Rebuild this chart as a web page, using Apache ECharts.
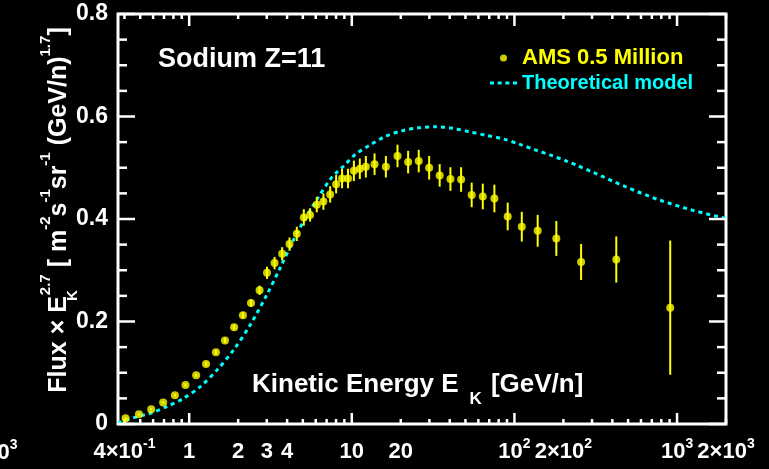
<!DOCTYPE html>
<html><head><meta charset="utf-8">
<script src="https://cdn.jsdelivr.net/npm/echarts@6/dist/echarts.min.js"></script>
<style>html,body{margin:0;padding:0;background:#000}#c{width:769px;height:469px}</style>
</head><body><div id="c"></div>
<script>
// ---- data ----
const energy = [0.406, 0.491, 0.584, 0.692, 0.817, 0.949, 1.104, 1.27, 1.46, 1.66, 1.89, 2.14, 2.40, 2.71, 3.01, 3.35, 3.73, 4.14, 4.59, 5.07, 5.54, 6.09, 6.69, 7.36, 8.01, 8.71, 9.48, 10.3, 11.2, 12.2, 13.8, 16.2, 19.1, 22.2, 25.8, 29.9, 34.7, 40.4, 47.0, 54.6, 63.9, 75.3, 90.9, 111, 139, 181, 257, 423, 908];
const flux = [0.011, 0.019, 0.029, 0.042, 0.056, 0.076, 0.095, 0.117, 0.140, 0.163, 0.189, 0.212, 0.236, 0.261, 0.295, 0.314, 0.332, 0.351, 0.371, 0.403, 0.408, 0.428, 0.434, 0.448, 0.468, 0.479, 0.479, 0.494, 0.498, 0.502, 0.507, 0.502, 0.523, 0.511, 0.513, 0.500, 0.485, 0.478, 0.477, 0.447, 0.444, 0.440, 0.405, 0.385, 0.377, 0.362, 0.316, 0.321, 0.227];
const fluxErr = [0.002, 0.002, 0.002, 0.002, 0.003, 0.003, 0.003, 0.004, 0.004, 0.005, 0.005, 0.006, 0.007, 0.009, 0.012, 0.012, 0.013, 0.013, 0.014, 0.016, 0.013, 0.015, 0.016, 0.016, 0.018, 0.019, 0.019, 0.020, 0.020, 0.021, 0.021, 0.021, 0.022, 0.022, 0.022, 0.023, 0.022, 0.023, 0.024, 0.024, 0.025, 0.027, 0.027, 0.029, 0.031, 0.034, 0.035, 0.045, 0.131];
const modelEnergy = [0.365, 0.453, 0.576, 0.73, 0.923, 1.17, 1.48, 1.87, 2.37, 3.0, 3.62, 4.38, 5.04, 6.1, 7.36, 8.08, 8.88, 10.6, 12.9, 16.0, 20.3, 25.7, 32.6, 41.5, 53.3, 67.5, 85.9, 107, 134, 169, 209, 241, 305, 490, 780, 1250, 2000];
const modelFlux = [0.002, 0.012, 0.021, 0.034, 0.050, 0.073, 0.105, 0.144, 0.193, 0.252, 0.304, 0.359, 0.395, 0.438, 0.477, 0.491, 0.503, 0.527, 0.544, 0.561, 0.572, 0.578, 0.580, 0.577, 0.570, 0.563, 0.556, 0.546, 0.535, 0.524, 0.513, 0.505, 0.491, 0.462, 0.437, 0.417, 0.401];

const xLabelValues = [0.4, 1, 2, 3, 4, 10, 20, 100, 200, 1000, 2000];
const xLabelTexts = ['4×10{sup|-1}', '1', '2', '3', '4', '10', '20', '10{sup|2}', '2×10{sup|2}', '10{sup|3}', '2×10{sup|3}'];
const xMajorTicks = [1, 10, 100, 1000];
const xMinorTicks = [0.4, 0.5, 0.6, 0.7, 0.8, 0.9, 2, 3, 4, 5, 6, 7, 8, 9, 20, 30, 40, 50, 60, 70, 80, 90, 200, 300, 400, 500, 600, 700, 800, 900, 2000];
const yTickValues = [0, 0.2, 0.4, 0.6, 0.8];
const yTickLabels = ['0', '0.2', '0.4', '0.6', '0.8'];
const yMinorTicks = [0.05, 0.1, 0.15, 0.25, 0.3, 0.35, 0.45, 0.5, 0.55, 0.65, 0.7, 0.75];
const X_MIN = 0.365, X_MAX = 2000, Y_MIN = 0, Y_MAX = 0.8, Y_STEP = 0.2;

// ---- styling ----
const FONT = '"Liberation Sans", Arial, Helvetica, sans-serif';
const WHITE = '#ffffff', YELLOW = '#ffff00', CYAN = '#00ffff';
const TICK_W = 2.5;
const X_TICK_LEN = [11, 5, 12, 5];   // bottom major, bottom minor, top major, top minor
const Y_TICK_LEN = [17, 9, 17, 9];   // left major, left minor, right major, right minor
const X_LABEL_GAP = 28;
const DASH_ICON = 'path://M0,0h4v3h-4zM7.6,0h4v3h-4zM15.2,0h4v3h-4zM22.8,0h4v3h-4z';
const supRich = {fontSize: 14, lineHeight: 14, verticalAlign: 'top', fontWeight: 'bold', fontFamily: FONT, fill: WHITE, color: WHITE};
const mainRich = {fontSize: 22, lineHeight: 29, fontWeight: 'bold', fontFamily: FONT, fill: WHITE, color: WHITE};

const xTickData = [].concat(
  xMajorTicks.map(v => [v, Y_MIN, 0]), xMinorTicks.map(v => [v, Y_MIN, 1]),
  xMajorTicks.map(v => [v, Y_MAX, 2]), xMinorTicks.map(v => [v, Y_MAX, 3]));
const yTickData = [].concat(
  yTickValues.map(v => [X_MIN, v, 0]), yMinorTicks.map(v => [X_MIN, v, 1]),
  yTickValues.map(v => [X_MAX, v, 2]), yMinorTicks.map(v => [X_MAX, v, 3]));

const chart = echarts.init(document.getElementById('c'), null, {renderer: 'canvas'});
chart.setOption({
  backgroundColor: '#000000',
  animation: false,
  grid: {left: 118, right: 43, top: 14, bottom: 45, show: true, borderColor: WHITE, borderWidth: 3, backgroundColor: 'transparent'},
  title: {text: 'Sodium Z=11', left: 158, top: 46, padding: 0,
          textStyle: {color: WHITE, fontSize: 27, fontWeight: 'bold', fontFamily: FONT}},
  legend: {
    orient: 'vertical', left: 490, top: 47, padding: 0, itemGap: 4, itemWidth: 27, itemHeight: 7,
    textStyle: {fontSize: 22, fontWeight: 'bold', fontFamily: FONT},
    data: [
      {name: 'AMS 0.5 Million', icon: 'circle', textStyle: {color: YELLOW, fontSize: 22}},
      {name: 'Theoretical model', icon: DASH_ICON, textStyle: {color: CYAN, fontSize: 20}}
    ]
  },
  xAxis: {type: 'log', logBase: 10, min: X_MIN, max: X_MAX,
          axisLine: {show: false, onZero: false}, axisTick: {show: false}, axisLabel: {show: false},
          splitLine: {show: false}, minorTick: {show: false}},
  yAxis: {type: 'value', position: 'left', min: Y_MIN, max: Y_MAX, interval: Y_STEP,
          axisLine: {show: false, onZero: false}, axisTick: {show: false}, splitLine: {show: false},
          axisLabel: {
            show: true, margin: 10, color: WHITE, fontSize: 23, fontWeight: 'bold', fontFamily: FONT,
            formatter: function (v) {
              for (let i = 0; i < yTickValues.length; i++) {
                if (Math.abs(yTickValues[i] - v) < 1e-9) return yTickLabels[i];
              }
              return '';
            }
          }},
  graphic: [
    {type: 'text', x: 59, y: 210, rotation: Math.PI / 2,
     style: {
       text: '{m|Flux × E}{k|K}{sup|2.7}{m| [ m}{sup|-2}{m|s}{sup|-1}{m|sr}{sup|-1}{m| (GeV/n)}{sup|1.7}{m|]}',
       align: 'center', verticalAlign: 'middle', fill: WHITE,
       rich: {
         m: {fontSize: 25, lineHeight: 42, fontWeight: 'bold', fontFamily: FONT, fill: WHITE},
         sup: {fontSize: 15, lineHeight: 14, verticalAlign: 'top', fontWeight: 'bold', fontFamily: FONT, fill: WHITE},
         k: {fontSize: 15, lineHeight: 34, width: 1, verticalAlign: 'bottom', fontWeight: 'bold', fontFamily: FONT, fill: WHITE}
       }
     }},
    {type: 'text', x: 252, y: 385,
     style: {
       text: '{m|Kinetic Energy E}{sub|K}{m|[GeV/n]}',
       align: 'left', verticalAlign: 'middle', fill: WHITE,
       rich: {
         m: {fontSize: 26, lineHeight: 46, fontWeight: 'bold', fontFamily: FONT, fill: WHITE},
         sub: {fontSize: 17, lineHeight: 17, verticalAlign: 'bottom', padding: [0, 9, 0, 11], fontWeight: 'bold', fontFamily: FONT, fill: WHITE}
       }
     }},
    {type: 'text', x: 17.5, y: 452.5,
     style: {
       text: '{m|10}{sup|3}', align: 'right', verticalAlign: 'middle', fill: WHITE,
       rich: {m: mainRich, sup: supRich}
     }}
  ],
  series: [
    {
      name: 'x ticks', type: 'custom', z: 3,
      data: xTickData,
      encode: {x: 0, y: 1},
      renderItem: function (params, api) {
        const code = api.value(2);
        const p = api.coord([api.value(0), api.value(1)]);
        const len = X_TICK_LEN[code];
        const top = code >= 2;
        return {type: 'rect',
                shape: {x: p[0] - TICK_W / 2, y: top ? p[1] : p[1] - len, width: TICK_W, height: len},
                style: {fill: WHITE}};
      }
    },
    {
      name: 'y ticks', type: 'custom', z: 3,
      data: yTickData,
      encode: {x: 0, y: 1},
      renderItem: function (params, api) {
        const code = api.value(2);
        const p = api.coord([api.value(0), api.value(1)]);
        const len = Y_TICK_LEN[code];
        const right = code >= 2;
        return {type: 'rect',
                shape: {x: right ? p[0] - len : p[0], y: p[1] - TICK_W / 2, width: len, height: TICK_W},
                style: {fill: WHITE}};
      }
    },
    {
      name: 'x labels', type: 'custom', z: 5,
      data: xLabelValues.map((v, i) => [v, Y_MIN, i]),
      encode: {x: 0, y: 1},
      renderItem: function (params, api) {
        const p = api.coord([api.value(0), Y_MIN]);
        return {type: 'text', x: p[0], y: p[1] + X_LABEL_GAP,
                style: {text: xLabelTexts[api.value(2)], align: 'center', verticalAlign: 'middle',
                        fill: WHITE, fontSize: 22, lineHeight: 29, fontWeight: 'bold', fontFamily: FONT,
                        rich: {m: mainRich, sup: supRich}}};
      }
    },
    {
      name: 'Theoretical model', type: 'line',
      data: modelEnergy.map((e, i) => [e, modelFlux[i]]),
      smooth: 0.3, symbol: 'none', z: 2,
      lineStyle: {color: CYAN, width: 3, type: [4, 4]},
      itemStyle: {color: CYAN}
    },
    {
      name: 'AMS errors', type: 'custom', z: 3,
      data: energy.map((e, i) => [e, flux[i] - fluxErr[i], flux[i] + fluxErr[i]]),
      encode: {x: 0, y: [1, 2]},
      renderItem: function (params, api) {
        const lo = api.coord([api.value(0), api.value(1)]);
        const hi = api.coord([api.value(0), api.value(2)]);
        return {type: 'line', shape: {x1: lo[0], y1: lo[1], x2: hi[0], y2: hi[1]},
                style: {stroke: YELLOW, lineWidth: 2}};
      }
    },
    {
      name: 'AMS 0.5 Million', type: 'scatter', z: 4,
      data: energy.map((e, i) => [e, flux[i]]),
      symbol: 'circle', symbolSize: 8,
      itemStyle: {color: YELLOW}
    }
  ]
});
</script>
</body></html>
